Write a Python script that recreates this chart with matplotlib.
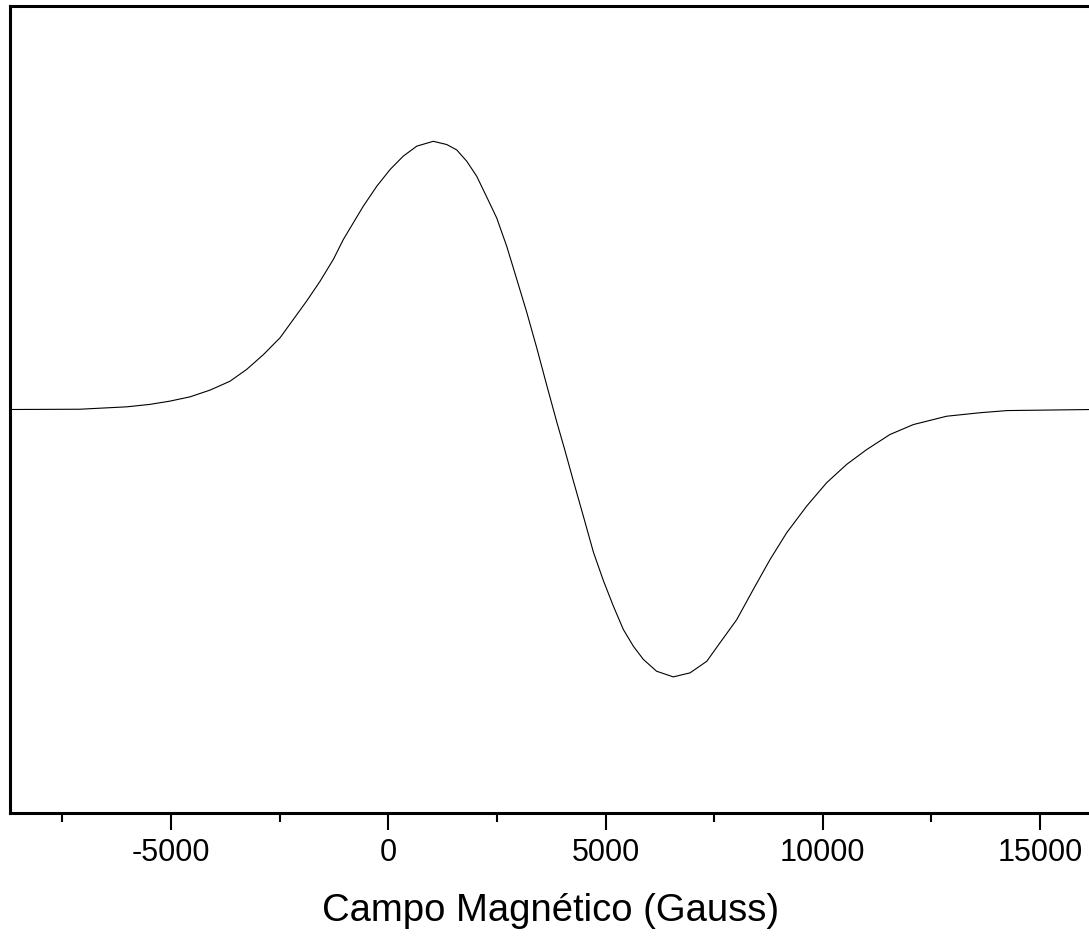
#!/usr/bin/env python3

import matplotlib
matplotlib.use('Agg')
import matplotlib.pyplot as plt
from matplotlib.ticker import MultipleLocator

# field (Gauss) and derivative signal (arbitrary units)
campo = [-8700, -7100, -6015, -5490, -5030, -4565, -4105, -3645, -3260, -2875,
         -2490, -2185, -1880, -1570, -1265, -1035, -805, -575, -265, 40,
         345, 655, 1035, 1345, 1575, 1805, 2035, 2265, 2495, 2725,
         2955, 3185, 3415, 3645, 3875, 4065, 4260, 4490, 4720, 4950,
         5180, 5410, 5640, 5870, 6175, 6560, 6945, 7330, 7635, 8020,
         8400, 8785, 9170, 9630, 10090, 10550, 11010, 11545, 12085, 12850,
         13620, 14240, 16200]
sinal = [0.000, 0.001, 0.010, 0.019, 0.031, 0.047, 0.072, 0.105, 0.149, 0.204,
         0.267, 0.335, 0.403, 0.477, 0.558, 0.632, 0.694, 0.756, 0.830, 0.892,
         0.942, 0.979, 0.997, 0.985, 0.965, 0.923, 0.867, 0.790, 0.712, 0.607,
         0.485, 0.362, 0.230, 0.091, -0.045, -0.152, -0.266, -0.397, -0.530, -0.636,
         -0.731, -0.818, -0.880, -0.929, -0.973, -0.994, -0.979, -0.936, -0.867, -0.781,
         -0.669, -0.558, -0.458, -0.359, -0.272, -0.204, -0.149, -0.093, -0.056, -0.025,
         -0.012, -0.004, 0.000]

xticks = [-5000, 0, 5000, 10000, 15000]
xlabel = 'Campo Magnético (Gauss)'

plt.rcParams['font.family'] = ['Liberation Sans', 'DejaVu Sans']

fig = plt.figure(figsize=(10.89, 9.36), dpi=100)
ax = fig.add_axes([10/1089, 123/936, 1082/1089, 807/936])

ax.plot(campo, sinal, color='black', lw=0.8)

ax.set_xlim(-8707, 16196)
ax.set_ylim(-1.5, 1.5)

ax.set_xticks(xticks)
ax.set_xticklabels([str(t) for t in xticks])
ax.xaxis.set_minor_locator(MultipleLocator(2500))
ax.tick_params(axis='x', which='major', direction='out', length=12, width=1.5,
               labelsize=22, pad=6)
ax.tick_params(axis='x', which='minor', direction='out', length=6.5, width=1.5)
ax.set_yticks([])

for s in ['left', 'top', 'bottom']:
  ax.spines[s].set_linewidth(2.2)
ax.spines['right'].set_visible(False)

ax.set_xlabel(xlabel, fontsize=27.5, labelpad=18)

plt.savefig('out.png', dpi=100)
plt.close()
